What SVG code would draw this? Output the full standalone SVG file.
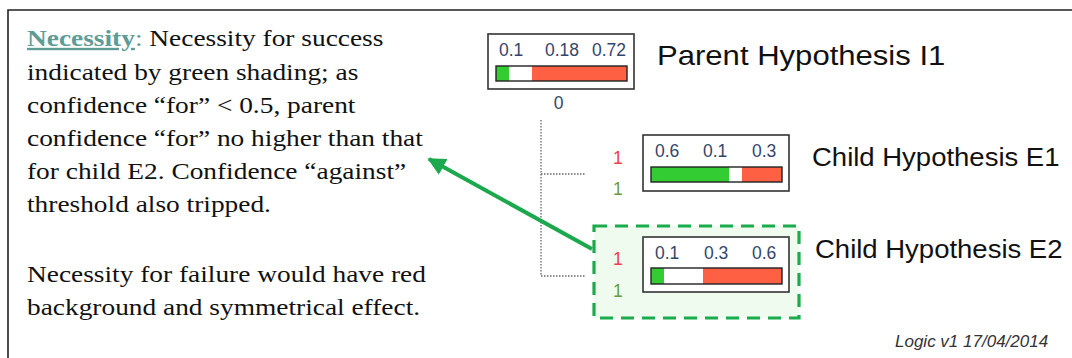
<svg xmlns="http://www.w3.org/2000/svg" width="1072" height="358" viewBox="0 0 1072 358">
<defs>
<style>
.body{font-family:"Liberation Serif","Times New Roman",serif;font-size:23.5px;fill:#111}
.head{fill:#5e9c95;text-decoration:underline}
.num{font-family:"Liberation Sans",Arial,sans-serif;font-size:17.5px;fill:#34466b}
.lbl{font-family:"Liberation Sans",Arial,sans-serif;fill:#111}
.box{fill:#fff;stroke:#333;stroke-width:1.6}
.bar{stroke:#222;stroke-width:1.4;fill:none}
.g{fill:#33cc33}.w{fill:#fff}.r{fill:#fe6044}
.dot{fill:none;stroke:#666;stroke-width:1.3;stroke-dasharray:1.5 1.5}
.red1{font-family:"Liberation Sans",Arial,sans-serif;font-size:17.5px;fill:#f0404a}
.grn1{font-family:"Liberation Sans",Arial,sans-serif;font-size:17.5px;fill:#6a9a3a}
</style>
<marker id="ah" viewBox="0 0 10 10" refX="9" refY="5" markerWidth="4.5" markerHeight="4.5" orient="auto" markerUnits="strokeWidth">
<path d="M0,0 L10,5 L0,10 z" fill="#1ca84c"/>
</marker>
</defs>
<rect width="1072" height="358" fill="#fff"/>
<path d="M8,358 V10 H1072" fill="none" stroke="#222" stroke-width="1.6"/>

<g id="explanation" transform="translate(27 0) scale(1.165 1)">
<text class="body" x="0" y="46"><tspan class="head" font-weight="bold">Necessity</tspan><tspan fill="#5e9c95">:</tspan> Necessity for success</text>
<text class="body" x="0" y="80">indicated by green shading; as</text>
<text class="body" x="0" y="113">confidence “for” &lt; 0.5, parent</text>
<text class="body" x="0" y="146">confidence “for” no higher than that</text>
<text class="body" x="0" y="179">for child E2. Confidence “against”</text>
<text class="body" x="0" y="212">threshold also tripped.</text>
<text class="body" x="0" y="282">Necessity for failure would have red</text>
<text class="body" x="0" y="315">background and symmetrical effect.</text>
</g>

<g id="connectors">
<path class="dot" d="M541,120 V276 H586 M541,174 H586"/>
<line x1="592" y1="249" x2="429" y2="159" stroke="#1ca84c" stroke-width="4" marker-end="url(#ah)"/>
</g>

<g id="parent">
<rect class="box" x="488" y="34" width="146" height="55"/>
<text class="num" x="499" y="56">0.1</text>
<text class="num" x="545" y="56">0.18</text>
<text class="num" x="592" y="56">0.72</text>
<rect class="g" x="496" y="66" width="13" height="15"/>
<rect class="w" x="509" y="66" width="23" height="15"/>
<rect class="r" x="532" y="66" width="95" height="15"/>
<rect class="bar" x="496" y="66" width="131" height="15"/>
<text class="num" x="558.5" y="109" text-anchor="middle">0</text>
<text class="lbl" font-size="27.5" transform="translate(657 65) scale(1.13 1)">Parent Hypothesis I1</text>
</g>

<g id="childE1">
<text class="red1" x="613" y="164">1</text>
<text class="grn1" x="613" y="195">1</text>
<rect class="box" x="643" y="135" width="146" height="56"/>
<text class="num" x="655" y="157">0.6</text>
<text class="num" x="703" y="157">0.1</text>
<text class="num" x="752" y="157">0.3</text>
<rect class="g" x="651" y="167" width="78" height="15"/>
<rect class="w" x="729" y="167" width="13" height="15"/>
<rect class="r" x="742" y="167" width="40" height="15"/>
<rect class="bar" x="651" y="167" width="131" height="15"/>
<text class="lbl" font-size="25" transform="translate(812 166) scale(1.1 1)">Child Hypothesis E1</text>
</g>

<g id="childE2">
<rect x="594" y="226" width="205" height="92" fill="#eefbee" stroke="#1aac4c" stroke-width="3.2" stroke-dasharray="13 8"/>
<text class="red1" x="613" y="265">1</text>
<text class="grn1" x="613" y="297">1</text>
<rect class="box" x="643" y="237" width="146" height="55"/>
<text class="num" x="655" y="259">0.1</text>
<text class="num" x="704" y="259">0.3</text>
<text class="num" x="752" y="259">0.6</text>
<rect class="g" x="651" y="268" width="13" height="16"/>
<rect class="w" x="664" y="268" width="39" height="16"/>
<rect class="r" x="703" y="268" width="79" height="16"/>
<rect class="bar" x="651" y="268" width="131" height="16"/>
<text class="lbl" font-size="25" transform="translate(815 258) scale(1.1 1)">Child Hypothesis E2</text>
</g>

<text x="895" y="347" font-family="Liberation Sans,Arial,sans-serif" font-size="17" font-style="italic" fill="#333">Logic v1 17/04/2014</text>
</svg>
